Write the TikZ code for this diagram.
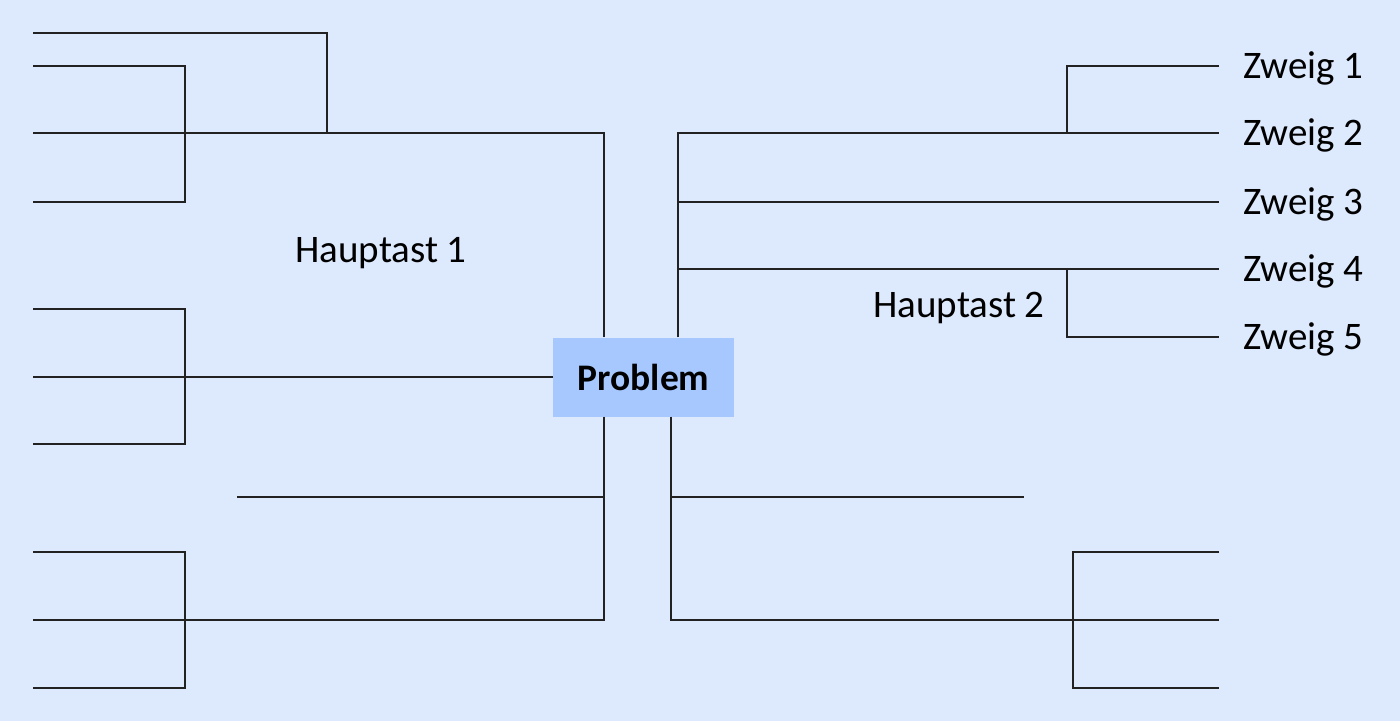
\documentclass[tikz,border=0pt]{standalone}
\usepackage{fontspec}
\setmainfont{Carlito}
\definecolor{bgcol}{HTML}{DDE9FD}
\definecolor{boxcol}{HTML}{A6C8FF}
\definecolor{linecol}{HTML}{222222}
\tikzset{
  branch/.style={draw=linecol, line width=1.3pt},
  label/.style={font=\fontsize{39}{42}\selectfont, inner sep=0pt, anchor=base},
  zlabel/.style={label, anchor=base west},
}
\begin{document}
\begin{tikzpicture}[x=1pt,y=-1pt]
\fill[bgcol] (0,0) rectangle (1400,721);
\useasboundingbox (0,0) rectangle (1400,721);
\node[fill=boxcol, minimum width=181pt, minimum height=79pt, inner sep=0pt,
      font=\fontsize{37.5}{40}\selectfont\bfseries] (P) at (643.5,377) {Problem};
% left side
\coordinate (LT) at (604,133);
\coordinate (LB) at (604,620);
\coordinate (LM) at (33,377);
\draw[branch] (P.north west -| LT) -- (LT) -- (33,133);
\draw[branch] (33,33) -- (327,33) -- (327,133);
\draw[branch] (33,66) -- (185,66) -- (185,202) -- (33,202);
\node[label] (H1) at (381,262) {Hauptast 1};
\draw[branch] (P.west) -- (LM);
\draw[branch] (33,309) -- (185,309) -- (185,444) -- (33,444);
\draw[branch] (P.south west -| LB) -- (LB) -- (33,620);
\draw[branch] (237,497) -- (604,497);
\draw[branch] (33,552) -- (185,552) -- (185,688) -- (33,688);
% right side
\coordinate (RT) at (678,133);
\coordinate (RB) at (671,620);
\node[zlabel] (Z1) at (1243,78) {Zweig 1};
\node[zlabel] (Z2) at (1243,145) {Zweig 2};
\node[zlabel] (Z3) at (1243,214) {Zweig 3};
\node[zlabel] (Z4) at (1243,281) {Zweig 4};
\node[zlabel] (Z5) at (1243,349) {Zweig 5};
\draw[branch] (P.north west -| RT) -- (RT) -- (1219,133);
\draw[branch] (1067,133) -- (1067,66) -- (1219,66);
\draw[branch] (678,202) -- (1219,202);
\draw[branch] (678,269) -- (1219,269);
\draw[branch] (1067,269) -- (1067,337) -- (1219,337);
\node[label] (H2) at (959,317) {Hauptast 2};
\draw[branch] (P.south west -| RB) -- (RB) -- (1219,620);
\draw[branch] (671,497) -- (1024,497);
\draw[branch] (1219,552) -- (1073,552) -- (1073,688) -- (1219,688);
\end{tikzpicture}
\end{document}
